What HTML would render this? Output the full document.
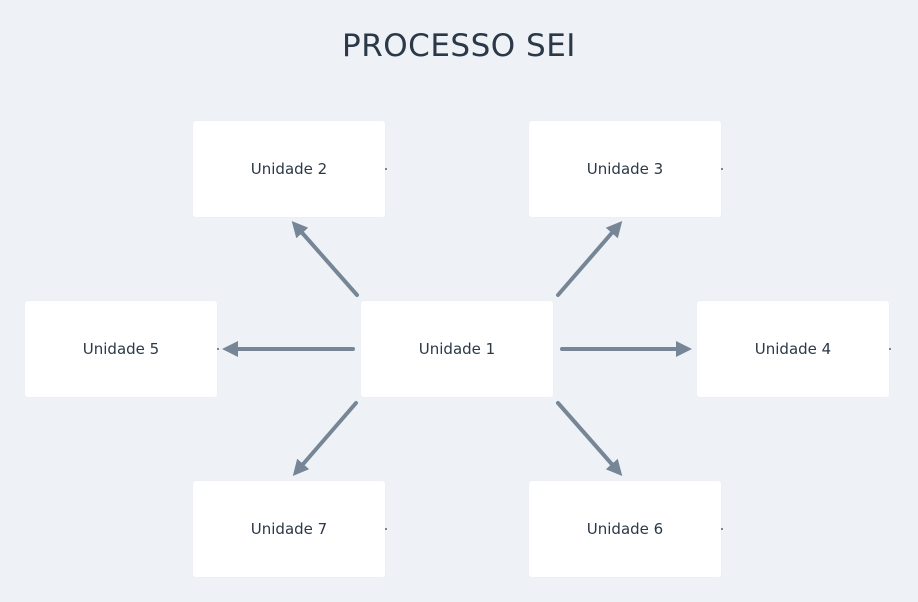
<!DOCTYPE html>
<html><head><style>
body{margin:0;width:918px;height:602px;background:#eef2f6;font-family:"DejaVu Sans","Liberation Sans",sans-serif;position:relative;overflow:hidden}
.t{position:absolute;left:0;width:918px;top:28px;text-align:center;font-size:31px;color:#2b3848;letter-spacing:0.5px}
.b{position:absolute;width:192px;height:96px;background:#fff;border-radius:3px;display:flex;align-items:center;justify-content:center;font-size:15px;color:#2b3848;box-shadow:0 0 1px rgba(0,0,0,.06)}
svg{position:absolute;left:0;top:0}
</style></head><body>
<div class="t">PROCESSO SEI</div>
<div class="b" style="left:193px;top:121px">Unidade 2</div>
<div class="b" style="left:529px;top:121px">Unidade 3</div>
<div class="b" style="left:25px;top:301px">Unidade 5</div>
<div class="b" style="left:361px;top:301px">Unidade 1</div>
<div class="b" style="left:697px;top:301px">Unidade 4</div>
<div class="b" style="left:193px;top:481px">Unidade 7</div>
<div class="b" style="left:529px;top:481px">Unidade 6</div>
<svg width="918" height="602">
<defs><marker id="a" markerWidth="4" markerHeight="4" refX="2" refY="2" orient="auto" markerUnits="strokeWidth"><path d="M0,0 L4,2 L0,4 z" fill="#778696"/></marker></defs>
<g stroke="#778696" stroke-width="4" stroke-linecap="round" fill="none">
<line x1="353" y1="349" x2="230" y2="349" marker-end="url(#a)"/>
<line x1="562" y1="349" x2="684" y2="349" marker-end="url(#a)"/>
<line x1="357" y1="295" x2="297" y2="227" marker-end="url(#a)"/>
<line x1="558" y1="295" x2="617" y2="227" marker-end="url(#a)"/>
<line x1="356" y1="403" x2="298" y2="470" marker-end="url(#a)"/>
<line x1="558" y1="403" x2="617" y2="470" marker-end="url(#a)"/>
</g>
<g fill="#778696">
<rect x="385" y="168" width="2" height="2"/><rect x="721" y="168" width="2" height="2"/>
<rect x="217" y="348" width="2" height="2"/><rect x="889" y="348" width="2" height="2"/>
<rect x="385" y="528" width="2" height="2"/><rect x="721" y="528" width="2" height="2"/>
</g>
</svg>
</body></html>
